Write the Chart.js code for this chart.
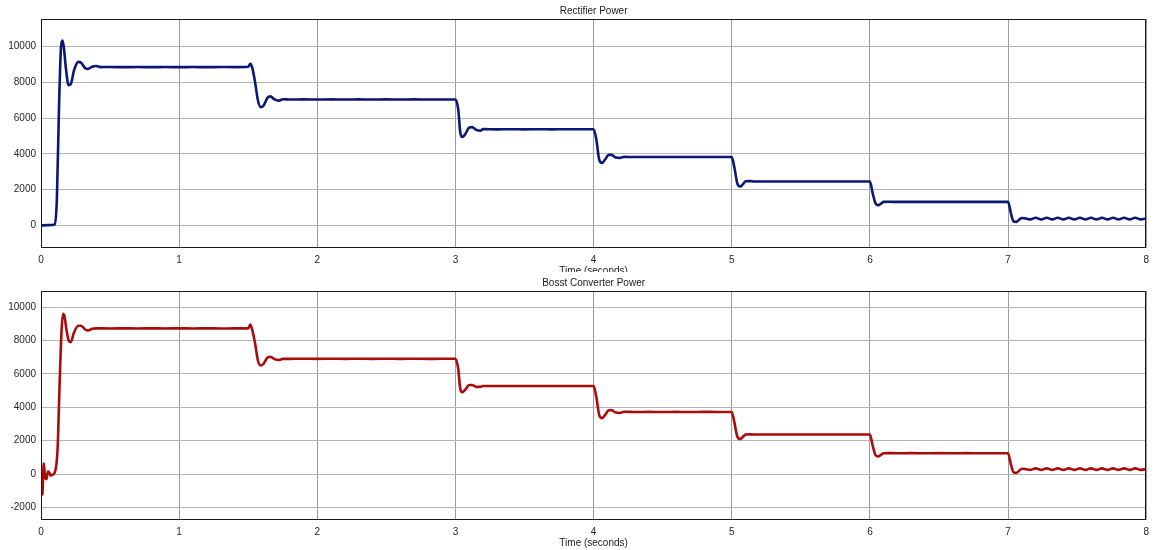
<!DOCTYPE html>
<html>
<head>
<meta charset="utf-8">
<script src="https://cdn.jsdelivr.net/npm/chart.js@4.4.0/dist/chart.umd.min.js"></script>
<style>
  html, body { margin: 0; padding: 0; background: #ffffff; }
  body { width: 1155px; height: 550px; position: relative; overflow: hidden; font-family: "Liberation Sans", Arial, sans-serif; }
  .box { position: absolute; left: 0; width: 1155px; height: 277px; }
  #topBox { top: 0; }
  #botBox { top: 272px; background: #ffffff; }
</style>
</head>
<body>
<div class="box" id="topBox"><canvas id="c1" width="1155" height="277"></canvas></div>
<div class="box" id="botBox"><canvas id="c2" width="1155" height="277"></canvas></div>
<script>
// ---- Data ----
const rectTitle = "Rectifier Power";
const boostTitle = "Bosst Converter Power";
const xTitle = "Time (seconds)";

const xTicks = [0, 1, 2, 3, 4, 5, 6, 7, 8];
const rectYTicks = [0, 2000, 4000, 6000, 8000, 10000];
const boostYTicks = [-2000, 0, 2000, 4000, 6000, 8000, 10000];

const rectTime = [
  0, 0.05, 0.10, 0.115, 0.13, 0.145, 0.155, 0.165, 0.18, 0.20, 0.215, 0.24, 0.27, 0.29, 0.32, 0.34, 0.37, 0.40, 0.43,
  0.5, 0.6, 0.7, 0.8, 0.9, 1.0, 1.1, 1.2, 1.3, 1.4,
  1.5, 1.515, 1.53, 1.55, 1.57, 1.59, 1.61, 1.64, 1.66, 1.69, 1.72, 1.75,
  1.8, 1.9, 2.0, 2.1, 2.2, 2.3, 2.4, 2.5, 2.6, 2.7, 2.8, 2.9,
  3.0, 3.02, 3.035, 3.05, 3.07, 3.10, 3.12, 3.15, 3.18, 3.2,
  3.3, 3.4, 3.5, 3.6, 3.7, 3.8, 3.9,
  4.0, 4.02, 4.04, 4.06, 4.08, 4.11, 4.13, 4.16, 4.19, 4.22,
  4.3, 4.4, 4.5, 4.6, 4.7, 4.8, 4.9,
  5.0, 5.02, 5.04, 5.06, 5.08, 5.10, 5.13, 5.16,
  5.3, 5.4, 5.5, 5.6, 5.7, 5.8, 5.9,
  6.0, 6.02, 6.04, 6.06, 6.08, 6.10, 6.13,
  6.2, 6.3, 6.4, 6.5, 6.6, 6.7, 6.8, 6.9,
  7.0, 7.02, 7.04, 7.06, 7.08, 7.10, 7.13,
  7.16, 7.20, 7.24, 7.28, 7.32, 7.36, 7.40, 7.44, 7.48, 7.52, 7.56, 7.60, 7.64, 7.68, 7.72, 7.76, 7.80, 7.84, 7.88, 7.92, 7.96, 8.0
];
const rectPower = [
  0, 20, 60, 1500, 6500, 10000, 10350, 10000, 8800, 7850, 7900, 8700, 9150, 9100, 8800, 8760, 8880, 8920, 8860,
  8862, 8858, 8862, 8858, 8862, 8858, 8862, 8858, 8862, 8860,
  8880, 9050, 8800, 8000, 7000, 6620, 6700, 7150, 7220, 7050, 6980, 7060,
  7048, 7052, 7048, 7052, 7048, 7052, 7048, 7052, 7048, 7052, 7048, 7050,
  7050, 6500, 5200, 4950, 5100, 5480, 5500, 5350, 5300, 5390,
  5378, 5382, 5378, 5382, 5378, 5382, 5380,
  5380, 4800, 3700, 3500, 3650, 3950, 3950, 3800, 3780, 3840,
  3828, 3832, 3828, 3832, 3828, 3832, 3830,
  3830, 3200, 2350, 2180, 2300, 2470, 2480, 2462,
  2458, 2462, 2458, 2462, 2458, 2462, 2460,
  2460, 1800, 1250, 1130, 1220, 1320, 1325,
  1318, 1322, 1318, 1322, 1318, 1322, 1318, 1320,
  1320, 700, 230, 200, 320, 420, 390,
  340, 430, 340, 430, 340, 430, 340, 430, 340, 430, 340, 430, 340, 430, 340, 430, 340, 430, 340, 430, 340, 400
];

const boostTime = [
  0, 0.01, 0.02, 0.03, 0.04, 0.05, 0.06, 0.07, 0.08, 0.10, 0.12, 0.135, 0.15, 0.16, 0.17, 0.185, 0.20, 0.215, 0.24, 0.27, 0.29, 0.32, 0.34, 0.37, 0.40,
  0.5, 0.6, 0.7, 0.8, 0.9, 1.0, 1.1, 1.2, 1.3, 1.4,
  1.5, 1.515, 1.53, 1.55, 1.57, 1.59, 1.61, 1.64, 1.66, 1.69, 1.72, 1.75,
  1.8, 1.9, 2.0, 2.1, 2.2, 2.3, 2.4, 2.5, 2.6, 2.7, 2.8, 2.9,
  3.0, 3.02, 3.035, 3.05, 3.07, 3.10, 3.12, 3.15, 3.18, 3.2,
  3.3, 3.4, 3.5, 3.6, 3.7, 3.8, 3.9,
  4.0, 4.02, 4.04, 4.06, 4.08, 4.11, 4.13, 4.16, 4.19, 4.22,
  4.3, 4.4, 4.5, 4.6, 4.7, 4.8, 4.9,
  5.0, 5.02, 5.04, 5.06, 5.08, 5.10, 5.13,
  5.2, 5.3, 5.4, 5.5, 5.6, 5.7, 5.8, 5.9,
  6.0, 6.02, 6.04, 6.06, 6.08, 6.10, 6.13,
  6.2, 6.3, 6.4, 6.5, 6.6, 6.7, 6.8, 6.9,
  7.0, 7.02, 7.04, 7.06, 7.08, 7.10, 7.13,
  7.16, 7.20, 7.24, 7.28, 7.32, 7.36, 7.40, 7.44, 7.48, 7.52, 7.56, 7.60, 7.64, 7.68, 7.72, 7.76, 7.80, 7.84, 7.88, 7.92, 7.96, 8.0
];
const boostPower = [
  -1250, -1200, 650, -200, -300, 150, 100, -100, -50, 100, 1500, 5500, 8800, 9600, 9450, 8600, 8000, 7900, 8500, 8880, 8880, 8650, 8600, 8700, 8725,
  8718, 8722, 8718, 8722, 8718, 8722, 8718, 8722, 8718, 8720,
  8720, 8950, 8600, 7800, 6800, 6500, 6600, 6980, 7020, 6880, 6830, 6895,
  6898, 6902, 6898, 6902, 6898, 6902, 6898, 6902, 6898, 6902, 6898, 6900,
  6900, 6300, 5100, 4900, 5050, 5330, 5330, 5220, 5220, 5275,
  5268, 5272, 5268, 5272, 5268, 5272, 5270,
  5270, 4600, 3550, 3350, 3500, 3820, 3830, 3680, 3660, 3730,
  3718, 3722, 3718, 3722, 3718, 3722, 3720,
  3720, 3050, 2250, 2100, 2220, 2370, 2375,
  2368, 2372, 2368, 2372, 2368, 2372, 2368, 2370,
  2370, 1700, 1150, 1050, 1150, 1250, 1255,
  1248, 1252, 1248, 1252, 1248, 1252, 1248, 1250,
  1250, 600, 100, 70, 200, 320, 290,
  250, 340, 250, 340, 250, 340, 250, 340, 250, 340, 250, 340, 250, 340, 250, 340, 250, 340, 250, 340, 250, 300
];

// ---- Chart construction ----
const FONT = "'Liberation Sans', Arial, sans-serif";

const framePlugin = {
  id: 'frame',
  afterDraw(chart) {
    const a = chart.chartArea, ctx = chart.ctx;
    ctx.save();
    ctx.strokeStyle = '#1a1a1a';
    ctx.lineWidth = 1;
    ctx.strokeRect(Math.round(a.left) + 0.5, Math.round(a.top) + 0.5, Math.round(a.right - a.left) - 1, Math.round(a.bottom - a.top) - 1);
    ctx.restore();
  }
};

function makeChart(id, title, tArr, vArr, color, yTicks, yMin, yMax) {
  const pts = tArr.map((t, i) => ({ x: t, y: vArr[i] }));
  return new Chart(document.getElementById(id), {
    type: 'line',
    data: {
      datasets: [{
        data: pts,
        borderColor: color,
        borderWidth: 2.6,
        pointRadius: 0,
        cubicInterpolationMode: 'monotone',
        fill: false
      }]
    },
    options: {
      responsive: false,
      animation: false,
      events: [],
      layout: { padding: { left: 0, right: 8, top: 0, bottom: 0 } },
      plugins: {
        legend: { display: false },
        tooltip: { enabled: false },
        title: {
          display: true,
          text: title,
          fullSize: false,
          color: '#1a1a1a',
          font: { family: FONT, size: 10, weight: 'normal', lineHeight: 1.2 },
          padding: { top: 5, bottom: 2 }
        }
      },
      scales: {
        x: {
          type: 'linear',
          min: 0, max: 8,
          afterBuildTicks: s => { s.ticks = xTicks.map(v => ({ value: v })); },
          afterFit: s => { s.height = 29; },
          grid: { color: '#9a9a9a', lineWidth: 1, drawTicks: false },
          border: { display: false },
          ticks: { color: '#262626', font: { family: FONT, size: 10 }, padding: 6, maxRotation: 0 },
          title: { display: true, text: xTitle, color: '#1a1a1a', font: { family: FONT, size: 10, lineHeight: 1.2 }, padding: { top: 0, bottom: 0 } }
        },
        y: {
          type: 'linear',
          min: yMin, max: yMax,
          afterBuildTicks: s => { s.ticks = yTicks.map(v => ({ value: v })); },
          afterFit: s => { s.width = 41; },
          grid: { color: '#b4b4b4', lineWidth: 1, drawTicks: false },
          border: { display: false },
          ticks: { color: '#262626', font: { family: FONT, size: 10 }, padding: 5, callback: v => String(v) }
        }
      }
    },
    plugins: [framePlugin]
  });
}

makeChart('c1', rectTitle, rectTime, rectPower, '#0b1775', rectYTicks, -1260, 11550);
makeChart('c2', boostTitle, boostTime, boostPower, '#aa0c0c', boostYTicks, -2750, 10960);
</script>
</body>
</html>
